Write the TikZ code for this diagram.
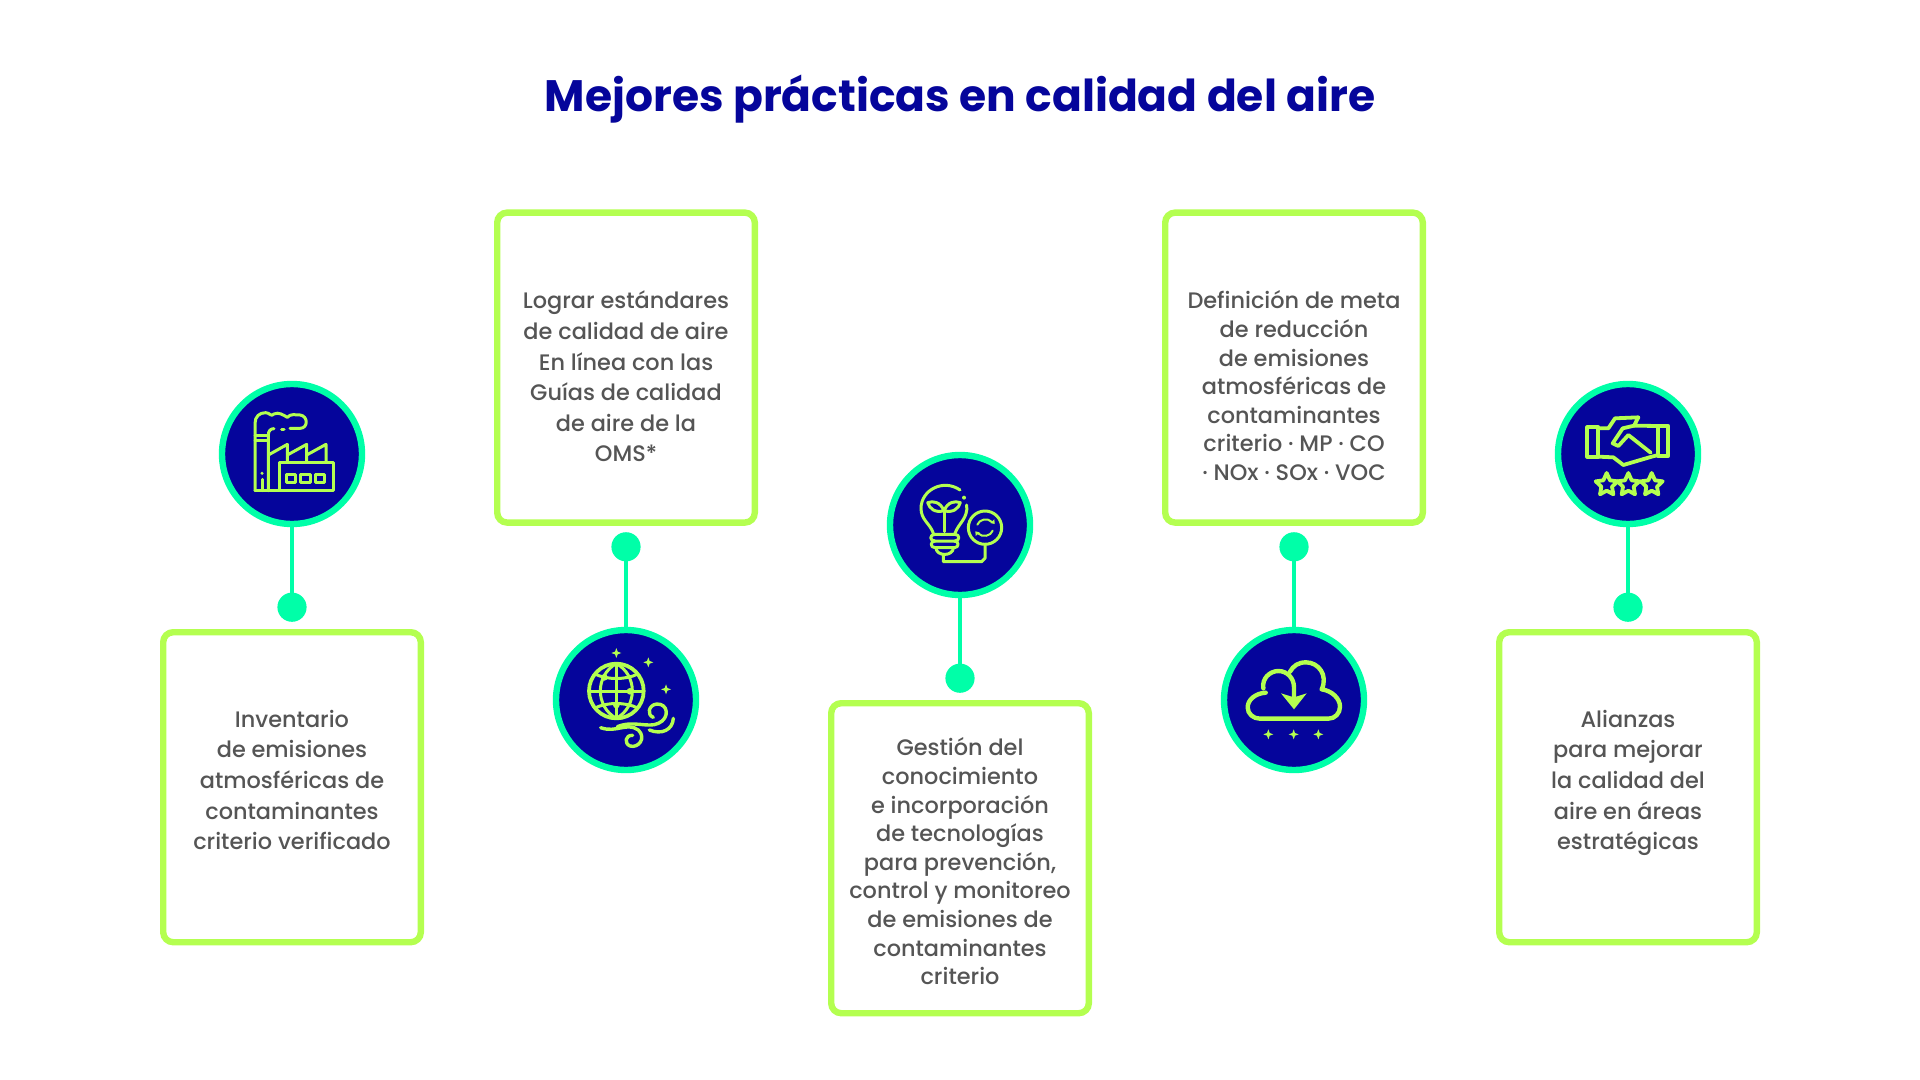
\documentclass[tikz,border=0pt]{standalone}
\usepackage{fontspec}
\setmainfont{Poppins}
\newfontfamily\mediumfont{Poppins Medium}
\usepackage{tikz}
\usetikzlibrary{positioning}
\definecolor{AirNavy}{HTML}{05059B}
\definecolor{AirMint}{HTML}{00FFA8}
\definecolor{AirLime}{HTML}{B4FF50}
\definecolor{AirGray}{HTML}{555555}

\begin{document}
\begin{tikzpicture}[
      x=0.5pt, y=-0.5pt,
      iconnode/.style={circle, draw=AirMint, fill=AirNavy, line width=3.2pt, minimum size=70pt, inner sep=0pt},
      dotnode/.style={circle, fill=AirMint, minimum size=14.6pt, inner sep=0pt, outer sep=0pt},
      boxnode/.style={draw=AirLime, fill=white, line width=3.2pt, rounded corners=5pt, minimum width=128.8pt, minimum height=155pt},
      textnode/.style={align=center, text=AirGray, font=\mediumfont\fontsize{11.2}{15.3}\selectfont},
      tightnode/.style={align=center, text=AirGray, font=\mediumfont\fontsize{11.2}{14.3}\selectfont},
      link/.style={AirMint, line width=1.75pt},
      iconpart/.style={shift={(#1)}, x=0.16667pt, y=-0.16667pt, AirLime, line width=1.5pt, line cap=round, line join=round},
      sparkle/.pic={\fill[AirLime] (0,-15) -- (4,-4) -- (15,0) -- (4,4) -- (0,15) -- (-4,4) -- (-15,0) -- (-4,-4) -- cycle;}
    ]
      \useasboundingbox (0,0) rectangle (1920,1080);

      \node[font=\fontsize{22}{26}\selectfont\bfseries, text=AirNavy] (title) at (960,99) {Mejores prácticas en calidad del aire};

      \node[iconnode] (icon1) at (292,454) {};
      \node[dotnode, below=32.7pt of icon1] (dot1) {};
      \node[boxnode, below=3.6pt of dot1] (box1) {};
      \node[textnode] (text1) at (292,780) {Inventario\\de emisiones\\atmosféricas de\\contaminantes\\criterio verificado};

      \node[iconnode] (icon2) at (626,700) {};
      \node[dotnode, above=32.7pt of icon2] (dot2) {};
      \node[boxnode, above=3.2pt of dot2] (box2) {};
      \node[textnode] (text2) at (626,376.5) {Lograr estándares\\de calidad de aire\\En línea con las\\Guías de calidad\\de aire de la\\OMS*};

      \node[iconnode] (icon3) at (960,525) {};
      \node[dotnode, below=32.7pt of icon3] (dot3) {};
      \node[boxnode, below=3.6pt of dot3] (box3) {};
      \node[tightnode] (text3) at (960,861.4) {Gestión del\\conocimiento\\e incorporación\\de tecnologías\\para prevención,\\control y monitoreo\\de emisiones de\\contaminantes\\criterio};

      \node[iconnode] (icon4) at (1294,700) {};
      \node[dotnode, above=32.7pt of icon4] (dot4) {};
      \node[boxnode, above=3.2pt of dot4] (box4) {};
      \node[tightnode] (text4) at (1294,385.7) {Definición de meta\\de reducción\\de emisiones\\atmosféricas de\\contaminantes\\criterio · MP · CO\\· NOx · SOx · VOC};

      \node[iconnode] (icon5) at (1628,454) {};
      \node[dotnode, below=32.7pt of icon5] (dot5) {};
      \node[boxnode, below=3.6pt of dot5] (box5) {};
      \node[textnode] (text5) at (1628,783) {Alianzas\\para mejorar\\la calidad del\\aire en áreas\\estratégicas};

      \foreach \n in {1,...,5}
        \draw[link] (icon\n) -- (dot\n);

      % Factory
      \begin{scope}[iconpart={200,360}]
        \draw (205,392) -- (205,225) .. controls (205,212) and (212,206) .. (222,206);
        \draw (165,392) -- (165,190) .. controls (165,170) and (178,158) .. (197,158) .. controls (210,158) and (212,172) .. (222,162) .. controls (235,155) and (250,165) .. (262,172) .. controls (272,160) and (285,165) .. (300,165) .. controls (325,168) and (325,205) .. (300,205) -- (270,205);
        \draw (245,207) -- (252,207);
        \draw (165,225) -- (205,225) (165,240) -- (205,240);
        \draw (165,392) -- (238,392);
        \draw (205,285) -- (262,253) -- (262,303) (262,285) -- (320,253) -- (320,303) (320,285) -- (378,253) -- (378,303);
        \draw (238,306) rectangle (400,392);
        \foreach \x in {272,316,360}
          \draw (\x-14,342) rectangle (\x+14,368);
        \draw (186,358) -- (186,392);
        \fill (186,340) circle (5);
      \end{scope}

      % Globe and wind
      \begin{scope}[iconpart={530,500}]
        \draw[line width=1.9pt] (259,573) circle (82);
        \draw (259,491) -- (259,655) (177,573) -- (341,573);
        \draw (259,491) .. controls (195,525) and (195,620) .. (259,655);
        \draw (259,491) .. controls (323,525) and (323,620) .. (259,655);
        \draw (195,522) .. controls (230,540) and (288,540) .. (323,522);
        \draw (195,624) .. controls (230,606) and (288,606) .. (323,624);
        \fill (223,532) circle (10) (300,574) circle (10) (259,615) circle (10);
        \foreach \x/\y in {259/459,355/487,408/568}
          \pic at (\x,\y) {sparkle};
        \draw[line width=1.7pt] (262,680) .. controls (310,660) and (355,685) .. (385,670) .. controls (420,655) and (415,610) .. (380,612) .. controls (355,615) and (350,645) .. (370,652);
        \draw[line width=1.7pt] (358,690) .. controls (395,705) and (428,690) .. (430,655);
        \draw[line width=1.7pt] (212,683) .. controls (260,700) and (290,665) .. (325,690) .. controls (350,715) and (325,745) .. (300,738) .. controls (282,730) and (285,705) .. (308,706);
      \end{scope}

      % Bulb
      \begin{scope}[iconpart={860,440}]
        \draw (300,150) .. controls (250,115) and (183,150) .. (183,205) .. controls (183,240) and (210,250) .. (220,280);
        \draw (320,195) .. controls (325,235) and (295,250) .. (285,280);
        \fill (312,173) circle (6);
        \draw (225,283) -- (285,283) .. controls (300,283) and (300,303) .. (285,303) -- (225,303) .. controls (208,303) and (208,283) .. (225,283);
        \draw (225,303) .. controls (210,303) and (210,323) .. (225,323) -- (283,323) .. controls (298,323) and (298,303) .. (283,303);
        \draw (228,323) .. controls (228,350) and (280,350) .. (280,323);
        \draw (252,275) -- (252,208);
        \draw (252,212) .. controls (240,185) and (220,182) .. (203,188) .. controls (208,205) and (225,220) .. (252,212);
        \draw (252,212) .. controls (264,185) and (284,182) .. (301,188) .. controls (296,205) and (279,220) .. (252,212);
        \draw (250,345) -- (250,365) -- (365,365) -- (375,355) -- (375,312);
        \draw (375,263) circle (50);
        \draw[line width=1pt] (352,254) .. controls (358,238) and (382,232) .. (396,246);
        \draw[line width=1pt] (398,272) .. controls (392,288) and (368,294) .. (354,280);
        \fill (403,238) -- (404,252) -- (391,249) -- cycle;
        \fill (347,288) -- (346,274) -- (359,277) -- cycle;
      \end{scope}

      % Cloud
      \begin{scope}[iconpart={1200,500}, line width=2.2pt]
        \draw (197,578) .. controls (165,580) and (143,600) .. (143,622) .. controls (143,642) and (160,656) .. (180,656) -- (385,656) .. controls (405,656) and (420,640) .. (420,620) .. controls (420,595) and (395,572) .. (365,568) .. controls (385,525) and (355,487) .. (318,487) .. controls (295,487) and (280,497) .. (270,515);
        \draw (190,565) .. controls (185,535) and (210,513) .. (235,513) .. controls (262,513) and (282,535) .. (282,562) -- (282,595);
        \fill (243,580) -- (282,592) -- (320,580) -- (282,628) -- cycle;
        \foreach \x in {205,281,355}
          \pic at (\x,703) {sparkle};
      \end{scope}

      % Handshake and stars
      \begin{scope}[iconpart={1530,360}, line width=1.9pt]
        \draw (172,202) rectangle (205,290);
        \draw (385,198) rectangle (415,288);
        \draw (205,205) -- (235,205) -- (255,175) -- (325,172) -- (312,197) -- (385,198);
        \draw (312,197) -- (278,205) -- (248,250) -- (265,258) -- (295,225) -- (362,278);
        \draw (205,290) -- (250,292) -- (280,315) -- (365,290) -- (385,285);
        \foreach \x in {230,295,365}
          \draw (\x,339) -- (\x+10,361) -- (\x+33,364) -- (\x+16,380) -- (\x+20,403) -- (\x,392) -- (\x-20,403) -- (\x-16,380) -- (\x-33,364) -- (\x-10,361) -- cycle;
      \end{scope}
    \end{tikzpicture}
\end{document}
